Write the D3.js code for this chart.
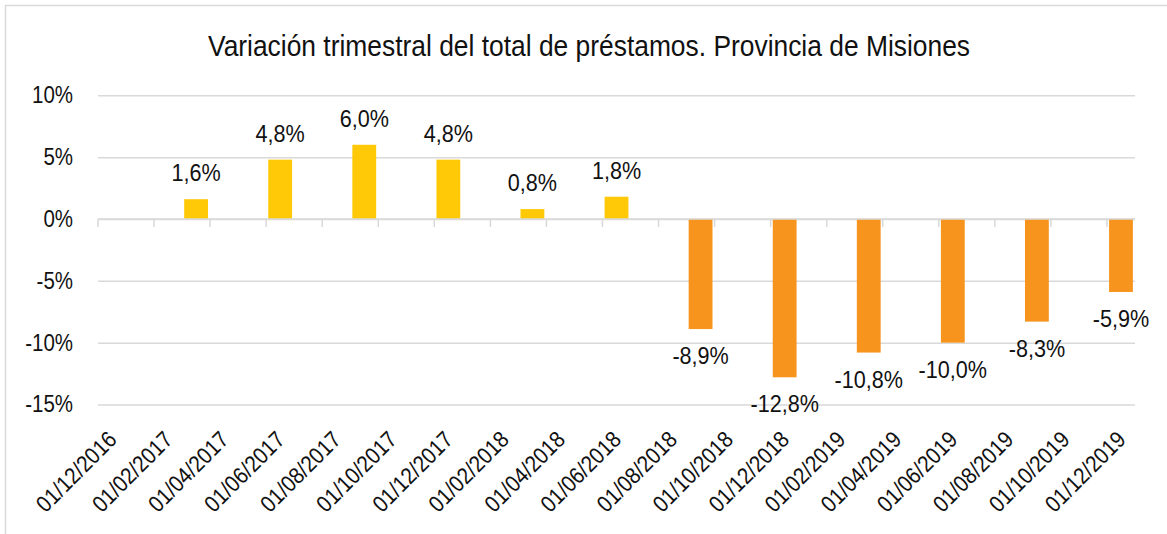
<!DOCTYPE html>
<html>
<head>
<meta charset="utf-8">
<script src="https://cdn.jsdelivr.net/npm/d3@7"></script>
<style>
  body { margin: 0; background: #fff; }
  svg { display: block; font-family: "Liberation Sans", Arial, sans-serif; }
</style>
</head>
<body>
<div id="chart"></div>
<script>
const title = 'Variación trimestral del total de préstamos. Provincia de Misiones'

// quarterly periods and their variation (%)
const periods = ['01/03/2017', '01/06/2017', '01/09/2017', '01/12/2017',
  '01/03/2018', '01/06/2018', '01/09/2018', '01/12/2018',
  '01/03/2019', '01/06/2019', '01/09/2019', '01/12/2019']
const values = [1.6, 4.8, 6.0, 4.8, 0.8, 1.8, -8.9, -12.8, -10.8, -10.0, -8.3, -5.9]

// axis labels, every two months
const tickLabels = ['01/12/2016', '01/02/2017', '01/04/2017', '01/06/2017', '01/08/2017',
  '01/10/2017', '01/12/2017', '01/02/2018', '01/04/2018', '01/06/2018', '01/08/2018',
  '01/10/2018', '01/12/2018', '01/02/2019', '01/04/2019', '01/06/2019', '01/08/2019',
  '01/10/2019', '01/12/2019']
const yTicks = [10, 5, 0, -5, -10, -15]

const width = 1167
const height = 534
const margin = { top: 95.3, right: 32, bottom: 129.5, left: 98 }
const narrow = 0.89 // horizontal squeeze to mimic a narrow face

const parse = d3.timeParse('%d/%m/%Y')
const fmt = d3.timeFormat('%d/%m/%Y')
const pct = d => d3.format('.1f')(d).replace('.', ',').replace('\u2212', '-') + '%'

// one slot per month, like a date axis with month base unit
const months = d3.timeMonth.range(parse(tickLabels[0]), d3.timeMonth.offset(parse(tickLabels[tickLabels.length - 1]), 1)).map(fmt)

const svg = d3.select('#chart').append('svg')
  .attr('width', width)
  .attr('height', height)

svg.append('rect')
  .attr('x', 5.5).attr('y', 5.5)
  .attr('width', width).attr('height', height - 4)
  .attr('fill', 'none')
  .attr('stroke', '#d9d9d9')
  .attr('stroke-width', 1.5)

svg.append('text')
  .attr('transform', `translate(589,56) scale(0.91,1)`)
  .attr('text-anchor', 'middle')
  .attr('font-size', 29)
  .attr('fill', '#111')
  .text(title)

const x = d3.scaleBand()
  .domain(months)
  .range([margin.left, width - margin.right])

const y = d3.scaleLinear()
  .domain([-15, 10])
  .range([height - margin.bottom, margin.top])

// gridlines and y labels
const yAxis = svg.append('g')
  .attr('transform', `translate(${margin.left},0)`)
  .call(d3.axisLeft(y).tickValues(yTicks).tickFormat(d => d + '%').tickSize(-(width - margin.right - margin.left)))
yAxis.select('.domain').remove()
yAxis.selectAll('.tick line').attr('stroke', '#d9d9d9').attr('stroke-width', 1.5)
yAxis.selectAll('.tick text')
  .attr('x', 0)
  .attr('transform', `translate(-25,0) scale(${narrow},1)`)
  .attr('font-size', 23)
  .attr('fill', '#111')
  .attr('font-family', 'inherit')

const barW = x.bandwidth() * 0.85

svg.append('g')
  .selectAll('rect')
  .data(values)
  .join('rect')
  .attr('x', (d, i) => x(periods[i]) + (x.bandwidth() - barW) / 2)
  .attr('width', barW)
  .attr('y', d => y(Math.max(0, d)))
  .attr('height', d => Math.abs(y(d) - y(0)))
  .attr('fill', d => d >= 0 ? '#ffc907' : '#f7941e')

// zero axis with ticks between month slots
const axis = svg.append('g')
axis.append('line')
  .attr('x1', margin.left).attr('x2', width - margin.right)
  .attr('y1', y(0)).attr('y2', y(0))
  .attr('stroke', '#d9d9d9').attr('stroke-width', 1.5)
axis.selectAll('.tk')
  .data(tickLabels)
  .join('line')
  .attr('class', 'tk')
  .attr('x1', d => x(d)).attr('x2', d => x(d))
  .attr('y1', y(0)).attr('y2', y(0) + 8)
  .attr('stroke', '#d9d9d9').attr('stroke-width', 1.5)

svg.append('g')
  .selectAll('text')
  .data(tickLabels)
  .join('text')
  .attr('transform', d => `translate(${x(d) + x.bandwidth() / 2 + 6},441) rotate(-45) scale(${narrow},1)`)
  .attr('text-anchor', 'end')
  .attr('font-size', 23)
  .attr('fill', '#111')
  .text(d => d)

// data labels
svg.append('g')
  .selectAll('text')
  .data(values)
  .join('text')
  .attr('transform', (d, i) => `translate(${x(periods[i]) + x.bandwidth() / 2},${d >= 0 ? y(d) - 18 : y(d) + 35}) scale(0.9,1)`)
  .attr('text-anchor', 'middle')
  .attr('font-size', 24)
  .attr('fill', '#111')
  .text(pct)
</script>
</body>
</html>
